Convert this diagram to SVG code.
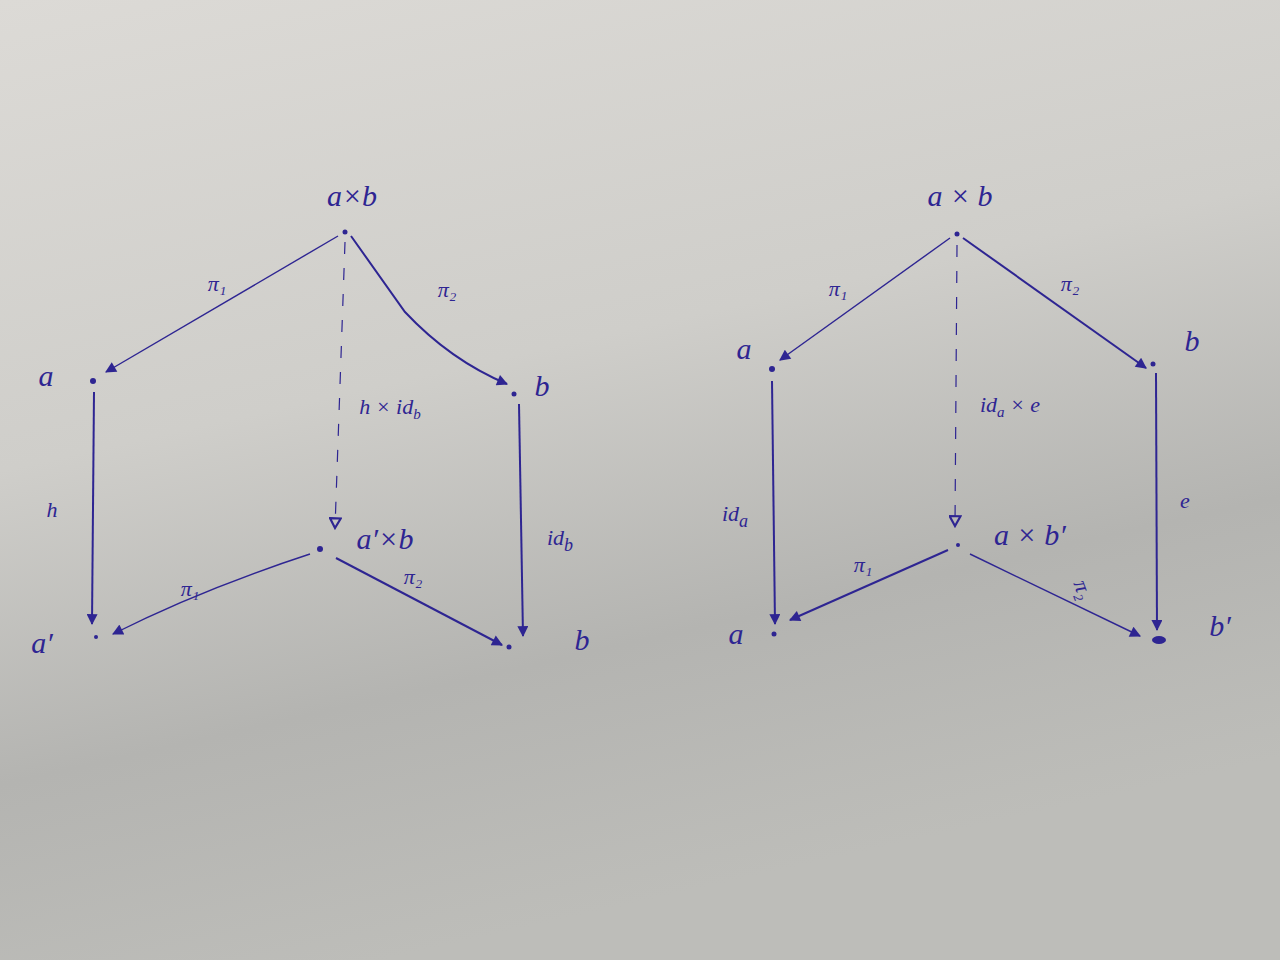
<svg xmlns="http://www.w3.org/2000/svg" width="1280" height="960" viewBox="0 0 1280 960">
<style>
.lbl{font-family:"Liberation Serif","DejaVu Serif",serif;font-style:italic;fill:#2e2592;font-size:30px;text-anchor:middle}
.elbl{font-family:"Liberation Serif","DejaVu Serif",serif;font-style:italic;fill:#2e2592;font-size:22px;text-anchor:middle}
.e{fill:none;stroke:#2e2592;stroke-width:2;marker-end:url(#ah)}
.thin{stroke-width:1.4}
.d{stroke-dasharray:12 14;stroke-width:1.2;marker-end:url(#oh)}
.dot{fill:#2e2592}
</style>
<defs>
<linearGradient id="bg" x1="0" y1="0" x2="0.3" y2="1">
<stop offset="0" stop-color="#dcdad6"/>
<stop offset="0.45" stop-color="#cfceca"/>
<stop offset="0.75" stop-color="#b4b4b1"/>
<stop offset="1" stop-color="#bdbdb9"/>
</linearGradient>
<marker id="ah" viewBox="0 0 10 10" refX="9" refY="5" markerWidth="13" markerHeight="11" orient="auto-start-reverse" markerUnits="userSpaceOnUse">
<path d="M0,0 L10,5 L0,10 z" fill="#2e2592"/>
</marker>
<marker id="oh" viewBox="0 0 12 12" refX="10" refY="6" markerWidth="13" markerHeight="13" orient="auto-start-reverse" markerUnits="userSpaceOnUse">
<path d="M1,1 L10,6 L1,11 z" fill="none" stroke="#2e2592" stroke-width="2"/>
</marker>
</defs>
<rect width="1280" height="960" fill="url(#bg)"/>
<g id="connectors">
<path class="e thin" d="M338,236 L106,372"/>
<path class="e" d="M351,236 L405,312 Q450,360 507,384"/>
<path class="e d" d="M345,242 L335,528"/>
<path class="e" d="M94,392 L92,624"/>
<path class="e" d="M519,404 L523,636"/>
<path class="e thin" d="M310,554 Q200,590 113,634"/>
<path class="e" d="M336,558 L502,645"/>
<path class="e thin" d="M950,238 L780,360"/>
<path class="e" d="M963,238 L1146,368"/>
<path class="e d" d="M957,245 L955,526"/>
<path class="e" d="M772,381 L775,624"/>
<path class="e" d="M1156,373 L1157,630"/>
<path class="e" d="M948,550 L790,620"/>
<path class="e thin" d="M970,554 L1140,636"/>
</g>
<g id="edge-labels">
<text class="elbl" x="217" y="291">π₁</text>
<text class="elbl" x="447" y="297">π₂</text>
<text class="elbl" x="390" y="414">h × id<tspan font-size="15" dy="5">b</tspan></text>
<text class="elbl" x="52" y="517" font-size="26">h</text>
<text class="elbl" x="560" y="545" font-size="28">id<tspan font-size="18" dy="6">b</tspan></text>
<text class="elbl" x="190" y="596">π₁</text>
<text class="elbl" x="413" y="584">π₂</text>
<text class="elbl" x="838" y="296">π₁</text>
<text class="elbl" x="1070" y="291">π₂</text>
<text class="elbl" x="1010" y="412">id<tspan font-size="15" dy="5">a</tspan><tspan dy="-5"> × e</tspan></text>
<text class="elbl" x="735" y="521" font-size="28">id<tspan font-size="18" dy="6">a</tspan></text>
<text class="elbl" x="1185" y="508" font-size="30">e</text>
<text class="elbl" x="863" y="572">π₁</text>
<text class="elbl" x="1082" y="596" transform="rotate(70 1082 590)">π₂</text>
</g>
<g id="n-axb-left"><circle class="dot" cx="345" cy="232" r="2.5"/><text class="lbl" x="352" y="206">a×b</text></g>
<g id="n-a-left"><circle class="dot" cx="93" cy="381" r="3"/><text class="lbl" x="46" y="386">a</text></g>
<g id="n-b-left"><circle class="dot" cx="514" cy="394" r="2.5"/><text class="lbl" x="542" y="396" font-size="24">b</text></g>
<g id="n-apxb-left"><circle class="dot" cx="320" cy="549" r="3"/><text class="lbl" x="385" y="549">a′×b</text></g>
<g id="n-ap-left"><circle class="dot" cx="96" cy="637" r="2"/><text class="lbl" x="42" y="653">a′</text></g>
<g id="n-b2-left"><circle class="dot" cx="509" cy="647" r="2.5"/><text class="lbl" x="582" y="650" font-size="24">b</text></g>
<g id="n-axb-right"><circle class="dot" cx="957" cy="234" r="2.5"/><text class="lbl" x="960" y="206">a × b</text></g>
<g id="n-a-right"><circle class="dot" cx="772" cy="369" r="3"/><text class="lbl" x="744" y="359" font-size="24">a</text></g>
<g id="n-b-right"><circle class="dot" cx="1153" cy="364" r="2.5"/><text class="lbl" x="1192" y="351" font-size="24">b</text></g>
<g id="n-axbp-right"><circle class="dot" cx="958" cy="545" r="2"/><text class="lbl" x="1030" y="545" font-size="26">a × b′</text></g>
<g id="n-a2-right"><circle class="dot" cx="774" cy="634" r="2.5"/><text class="lbl" x="736" y="644" font-size="24">a</text></g>
<g id="n-bp-right"><ellipse class="dot" cx="1159" cy="640" rx="7" ry="4"/><text class="lbl" x="1220" y="636">b′</text></g>
</svg>
